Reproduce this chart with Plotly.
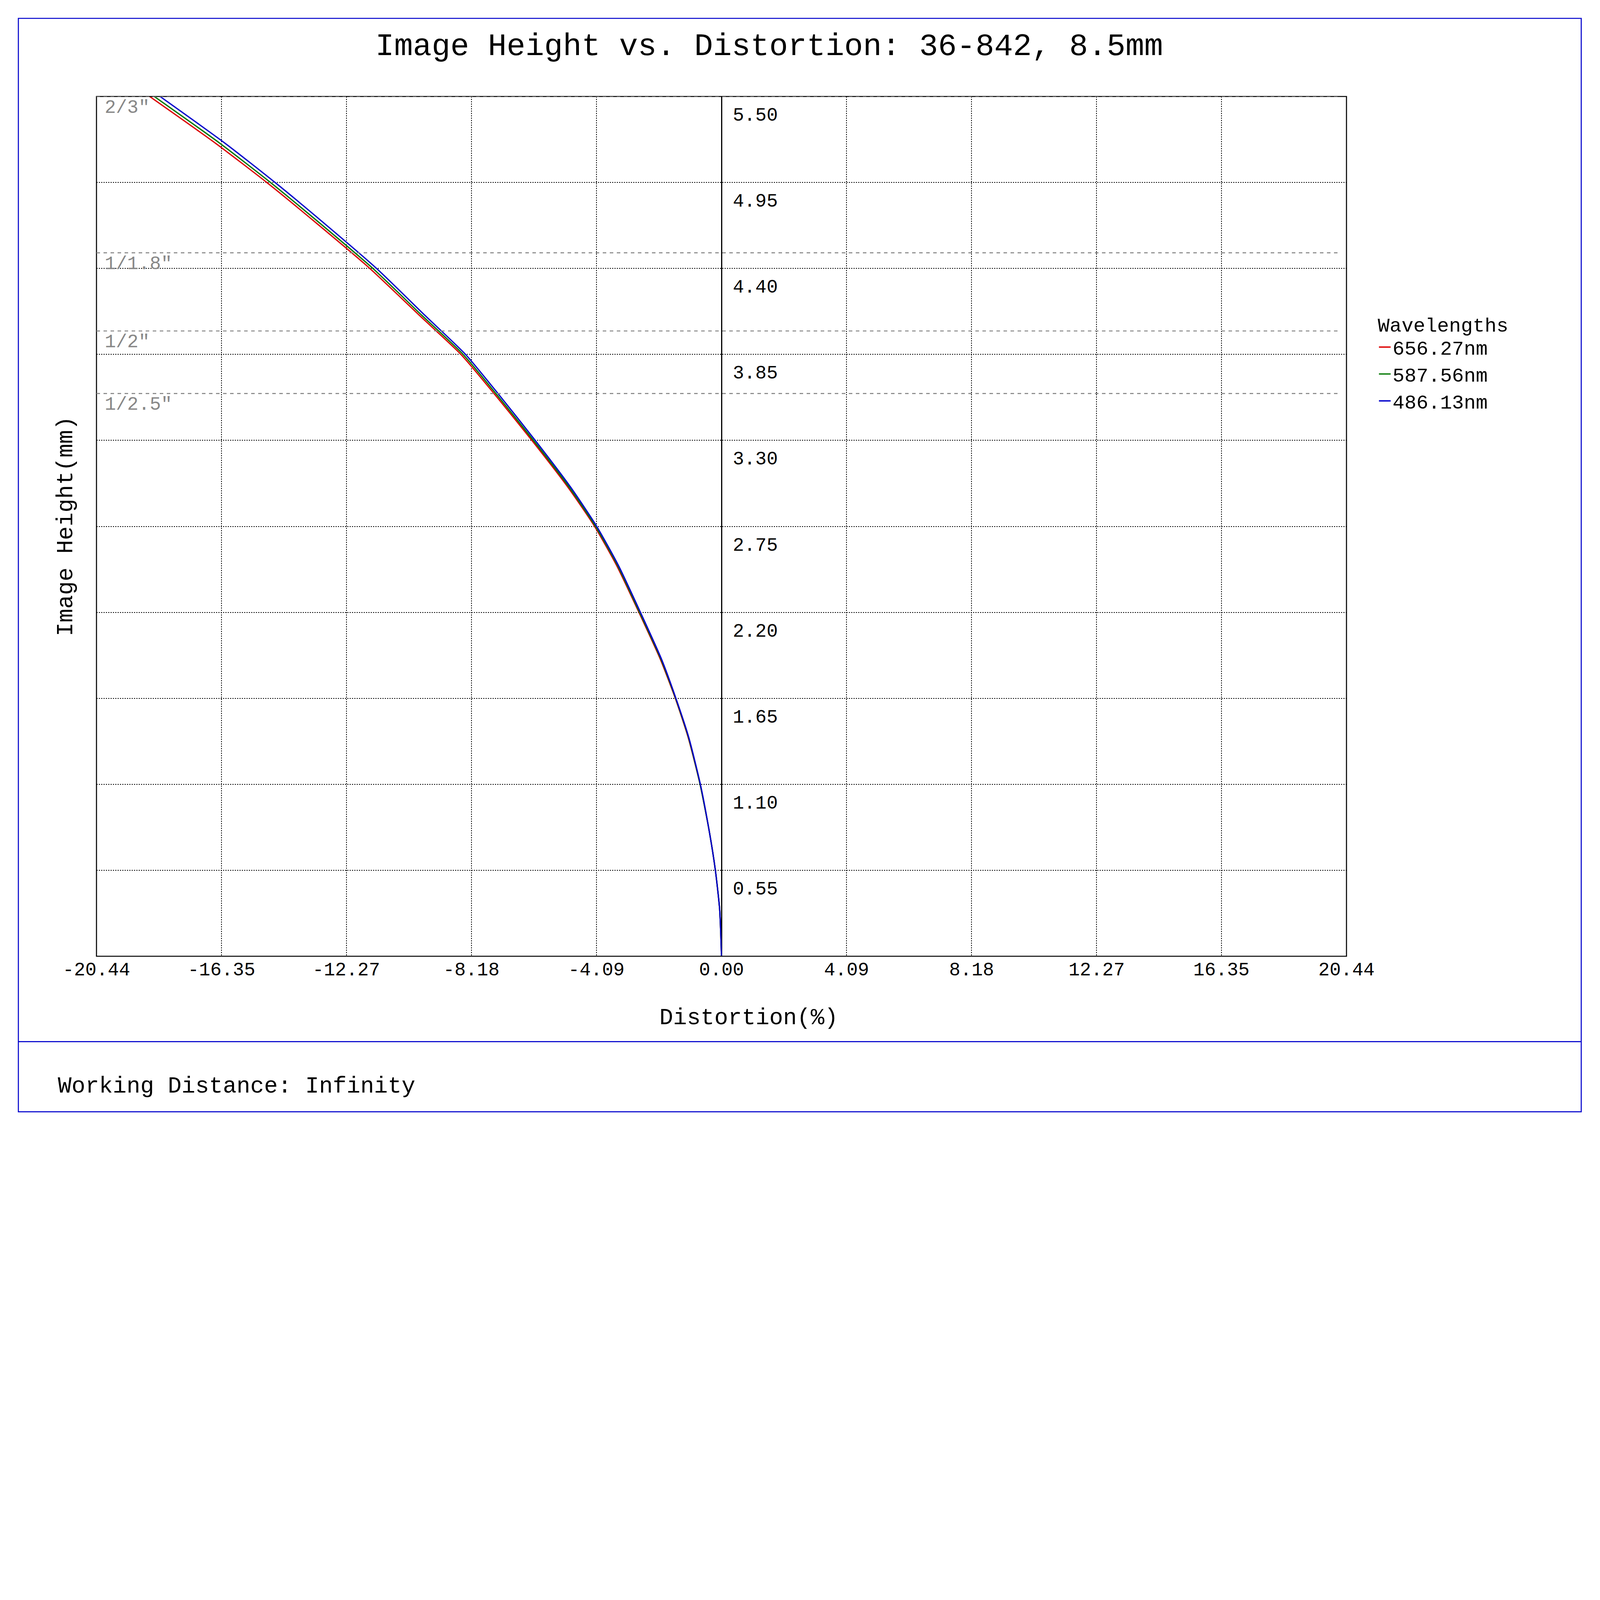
import plotly.graph_objects as go

F = 1 / 1.5  # page renders at device scale 1.5
W, H = round(6118 * F), round(4327 * F)
S = W / 1568.0
L, R, T, B = round(359 * F), round(960 * F), round(359 * F), round(667 * F)
PW, PH = W - L - R, H - T - B

heights = [0.0, 0.3, 0.55, 0.8, 1.10, 1.4, 1.65, 1.9, 2.2, 2.5, 2.75, 3.0, 3.3, 3.6, 3.85, 4.1, 4.4, 4.7, 4.95, 5.2, 5.5]
dist_587 = [0.0, -0.06, -0.20, -0.40, -0.70, -1.08, -1.50, -1.98, -2.68, -3.40, -4.12, -4.98, -6.15, -7.38, -8.45, -9.80, -11.40, -13.20, -14.75, -16.40, -18.55]
dist_656 = [0.0, -0.06, -0.20, -0.40, -0.70, -1.09, -1.51, -2.00, -2.70, -3.43, -4.15, -5.02, -6.20, -7.44, -8.52, -9.88, -11.50, -13.31, -14.87, -16.54, -18.70]
dist_486 = [0.0, -0.06, -0.20, -0.40, -0.69, -1.07, -1.49, -1.96, -2.65, -3.37, -4.08, -4.93, -6.09, -7.31, -8.37, -9.70, -11.28, -13.06, -14.60, -16.23, -18.36]
wavelengths = ["656.27nm", "587.56nm", "486.13nm"]
colors = ["#dd0000", "#007700", "#0000cc"]

x_ticks = [-20.44, -16.35, -12.27, -8.18, -4.09, 0.0, 4.09, 8.18, 12.27, 16.35, 20.44]
x_tick_text = ["-20.44", "-16.35", "-12.27", "-8.18", "-4.09", "0.00", "4.09", "8.18", "12.27", "16.35", "20.44"]
y_ticks = [0.55, 1.10, 1.65, 2.20, 2.75, 3.30, 3.85, 4.40, 4.95, 5.50]
sensor_names = ['2/3"', '1/1.8"', '1/2"', '1/2.5"']
sensor_heights = [5.5, 4.5, 4.0, 3.6]

FONT = "Liberation Mono"

def px(x):
    return (x * S - L) / PW

def py(y):
    return 1 - (y * S - T) / PH

def f(v):
    return v * F

fig = go.Figure()
for d, name, c in zip([dist_656, dist_587, dist_486], wavelengths, colors):
    fig.add_trace(go.Scatter(x=d, y=heights, mode="lines", name=name,
                             line=dict(color=c, width=f(5), shape="spline", smoothing=0.6)))

shapes = []
shapes.append(dict(type="rect", xref="paper", yref="paper", x0=px(15), x1=px(1553), y0=py(1091), y1=py(15),
                   line=dict(color="#0000cc", width=f(4))))
shapes.append(dict(type="line", xref="paper", yref="paper", x0=px(15), x1=px(1553), y0=py(1022), y1=py(1022),
                   line=dict(color="#0000cc", width=f(4))))
shapes.append(dict(type="rect", xref="paper", yref="paper", x0=0, x1=1, y0=0, y1=1,
                   line=dict(color="black", width=f(4))))
annotations = []
for nm, h in zip(sensor_names, sensor_heights):
    shapes.append(dict(type="line", xref="paper", yref="y", x0=0, x1=0.995, y0=h, y1=h,
                       line=dict(color="#888888", width=f(4), dash="dash")))
    annotations.append(dict(x=-20.2, y=h, xref="x", yref="y", text=nm, showarrow=False,
                            xanchor="left", yanchor="top", font=dict(family=FONT, size=f(72), color="#888888")))
for v in y_ticks:
    annotations.append(dict(x=0.35, y=v, xref="x", yref="y", text=f"{v:.2f}", showarrow=False,
                            xanchor="left", yanchor="top", yshift=-f(30), font=dict(family=FONT, size=f(72), color="black")))
annotations.append(dict(x=px(53), y=py(1066), xref="paper", yref="paper", text="Working Distance: Infinity",
                        showarrow=False, xanchor="left", yanchor="middle", font=dict(family=FONT, size=f(88), color="black")))
annotations.append(dict(x=px(754), y=py(43), xref="paper", yref="paper", text="Image Height vs. Distortion: 36-842, 8.5mm",
                        showarrow=False, xanchor="center", yanchor="middle", font=dict(family=FONT, size=f(120), color="black")))
annotations.append(dict(x=px(734), y=py(999), xref="paper", yref="paper", text="Distortion(%)",
                        showarrow=False, xanchor="center", yanchor="middle", font=dict(family=FONT, size=f(88), color="black")))
annotations.append(dict(x=px(62), y=0.5, xref="paper", yref="paper", text="Image Height(mm)", textangle=-90,
                        showarrow=False, xanchor="center", yanchor="middle", font=dict(family=FONT, size=f(88), color="black")))

fig.update_layout(
    width=W, height=H, margin=dict(l=L, r=R, t=T, b=B),
    paper_bgcolor="white", plot_bgcolor="white",
    shapes=shapes, annotations=annotations,
    font=dict(family=FONT, color="black"),
    legend=dict(x=px(1352), y=py(298), xanchor="left", yanchor="top",
                title=dict(text="Wavelengths", font=dict(family=FONT, size=f(76))),
                font=dict(family=FONT, size=f(76)), itemwidth=30, tracegroupgap=f(70)),
    xaxis=dict(range=[-20.44, 20.44], tickvals=x_ticks, ticktext=x_tick_text, showgrid=True,
               griddash="dot", gridcolor="black", gridwidth=f(3), zeroline=True, zerolinecolor="black",
               zerolinewidth=f(4), ticks="", tickfont=dict(family=FONT, size=f(72)), showline=False),
    yaxis=dict(range=[0, 5.5], tickvals=y_ticks, showticklabels=False, showgrid=True,
               griddash="dot", gridcolor="black", gridwidth=f(3), zeroline=False, ticks="", showline=False),
)
fig.write_html("out.html")
